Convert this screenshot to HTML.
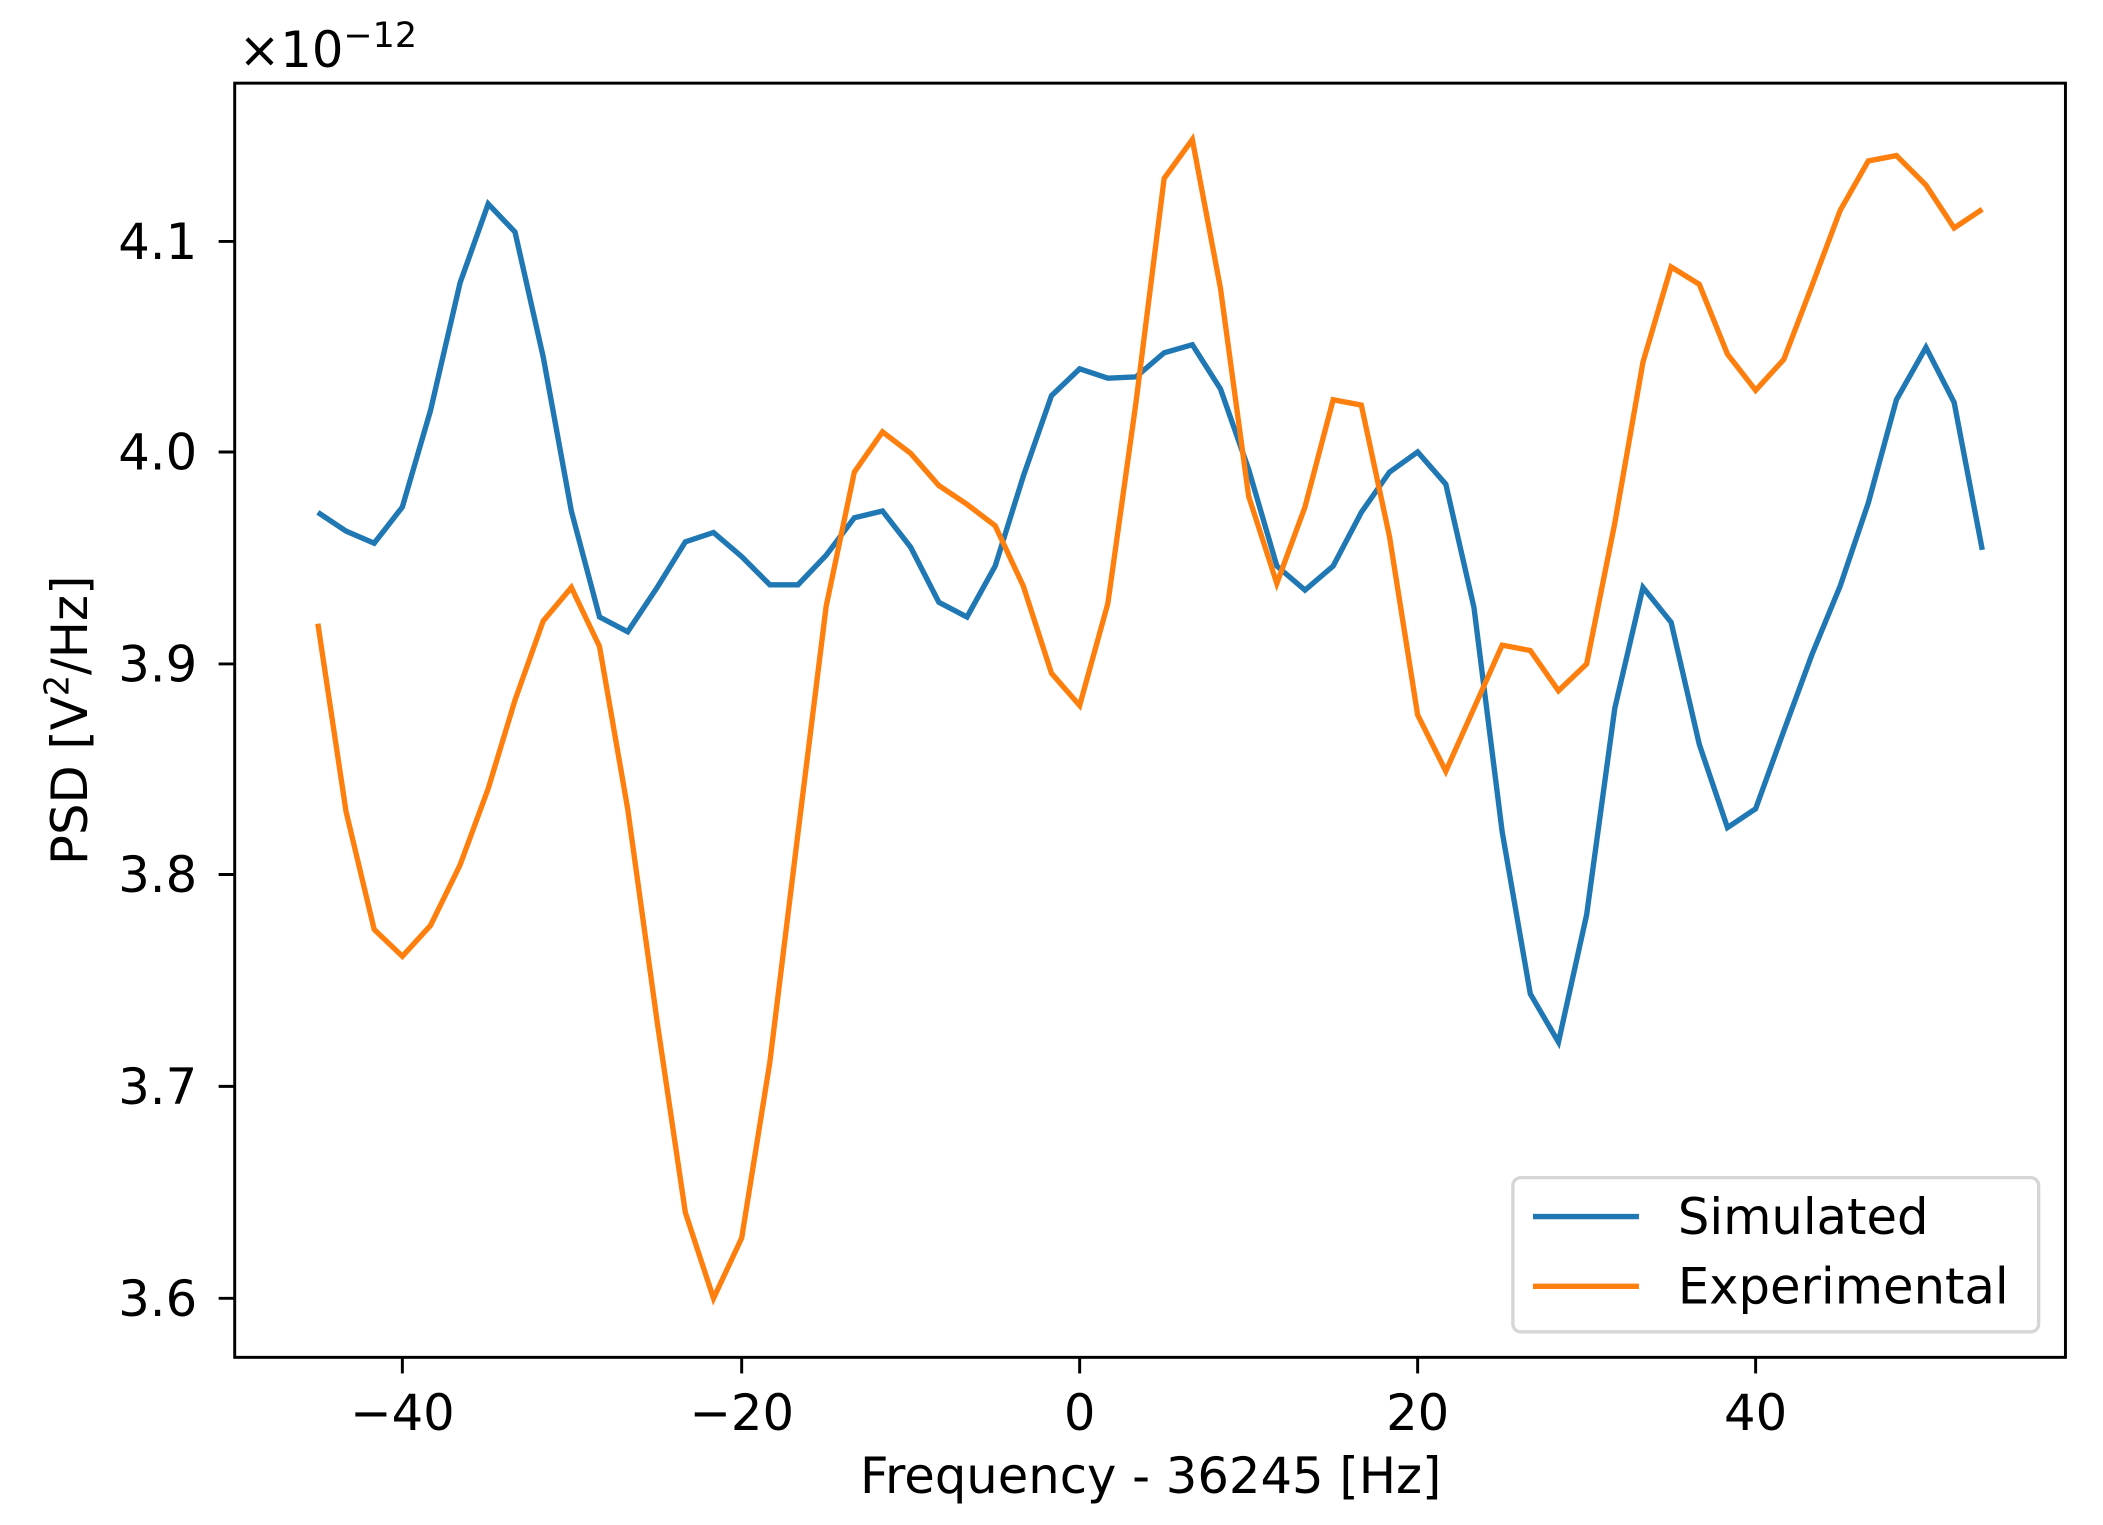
<!DOCTYPE html>
<html><head><style>html,body{margin:0;padding:0;background:#fff}svg{display:block}</style></head>
<body>
<svg width="2103" height="1525" viewBox="0 0 1568 1137" preserveAspectRatio="none" xmlns="http://www.w3.org/2000/svg" font-family="'DejaVu Sans', 'Liberation Sans', sans-serif">
<rect width="1568" height="1137" fill="#fff"/>
<polyline fill="none" stroke="#1f77b4" stroke-width="4" points="237,382 258,396 279,405 300,378 321,306 343,211 364,152 384,173 405,266 426,381 447,460 468,471 490,438 511,404 532,397 553,415 574,436 595,436 616,414 637,386 658,381 679,408 700,449 721,460 742,422 763,355 784,295 805,275 826,282 847,281 868,263 889,257 910,290 931,350 952,422 973,440 994,422 1015,382 1036,352 1057,337 1078,361 1099,453 1120,620 1141,741 1162,777 1183,682 1204,528 1225,438 1246,464 1267,555 1288,617 1309,603 1330,545 1351,488 1372,437 1393,375 1414,298 1436,259 1457,300 1478,410"/>
<polyline fill="none" stroke="#ff7f0e" stroke-width="4" points="237,465 258,605 279,693 300,713 321,690 343,645 364,588 384,522 405,463 426,438 447,482 468,603 490,762 511,904 532,968 553,923 574,792 595,621 616,452 637,352 658,322 679,338 700,362 721,376 742,392 763,437 784,502 805,526 826,450 847,300 868,133 889,104 910,215 931,370 952,435 973,378 994,298 1015,302 1036,400 1057,533 1078,575 1099,528 1120,481 1141,485 1162,515 1183,495 1204,390 1225,270 1246,199 1267,212 1288,264 1309,291 1330,268 1351,213 1372,157 1393,120 1414,116 1436,138 1457,170 1478,156"/>
<rect x="175" y="62" width="1365" height="950" fill="none" stroke="#000" stroke-width="2.2"/>
<g stroke="#000" stroke-width="2.2">
<line x1="300" y1="1012" x2="300" y2="1024"/><line x1="553" y1="1012" x2="553" y2="1024"/><line x1="805" y1="1012" x2="805" y2="1024"/><line x1="1057" y1="1012" x2="1057" y2="1024"/><line x1="1309" y1="1012" x2="1309" y2="1024"/>
<line x1="163" y1="180" x2="175" y2="180"/><line x1="163" y1="337" x2="175" y2="337"/><line x1="163" y1="495" x2="175" y2="495"/><line x1="163" y1="652" x2="175" y2="652"/><line x1="163" y1="810" x2="175" y2="810"/><line x1="163" y1="968" x2="175" y2="968"/>
</g>
<g font-size="37" fill="#000" text-anchor="middle">
<text x="300" y="1066">−40</text><text x="553" y="1066">−20</text><text x="805" y="1066">0</text><text x="1057" y="1066">20</text><text x="1309" y="1066">40</text>
</g>
<g font-size="37" fill="#000" text-anchor="end">
<text x="147" y="193">4.1</text><text x="147" y="350">4.0</text><text x="147" y="508">3.9</text><text x="147" y="665">3.8</text><text x="147" y="823">3.7</text><text x="147" y="981">3.6</text>
</g>
<text x="858" y="1113" font-size="37" text-anchor="middle">Frequency - 36245 [Hz]</text>
<text transform="translate(65,537) rotate(-90)" font-size="37" text-anchor="middle">PSD [V<tspan font-size="25" dy="-14">2</tspan><tspan dy="14">/Hz]</tspan></text>
<text x="178" y="50" font-size="37">×10<tspan font-size="26" dy="-15">−12</tspan></text>
<rect x="1128" y="878" width="392" height="115" rx="6" fill="#fff" stroke="#d6d6d6" stroke-width="2.5"/>
<line x1="1143" y1="907" x2="1222" y2="907" stroke="#1f77b4" stroke-width="4"/>
<line x1="1143" y1="959" x2="1222" y2="959" stroke="#ff7f0e" stroke-width="4"/>
<text x="1251" y="920" font-size="37">Simulated</text>
<text x="1251" y="972" font-size="37">Experimental</text>
</svg>
</body></html>
